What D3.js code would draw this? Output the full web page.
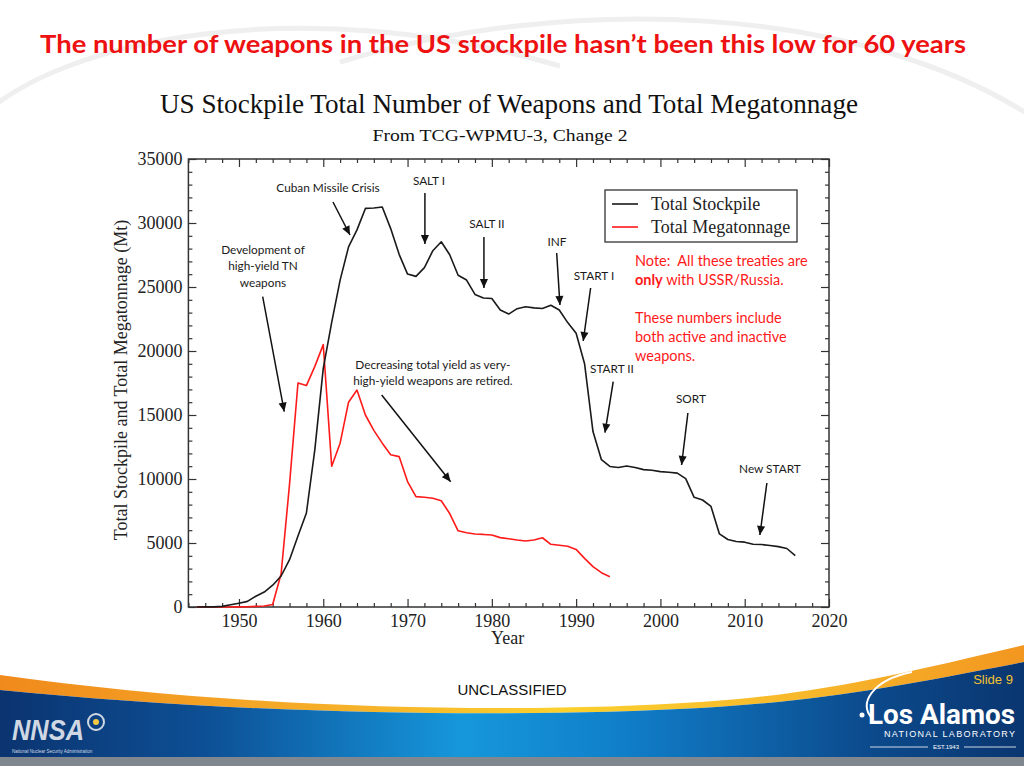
<!DOCTYPE html>
<html><head><meta charset="utf-8">
<script src="https://cdn.jsdelivr.net/npm/d3@7"></script>
<style>body{margin:0;background:#fff;} svg{display:block;}</style>
</head><body>
<svg id="c" width="1024" height="766"></svg>
<script>
// ---------------- DATA ----------------
const stockYears = d3.range(1945, 2017);
const stockpile = [2, 9, 13, 50, 170, 299, 438, 841, 1169, 1703,
  2422, 3692, 5543, 7345, 12298, 18638, 22229, 25540, 28133, 29463,
  31139, 31175, 31255, 29561, 27552, 26008, 25830, 26516, 27835, 28537,
  27519, 25914, 25542, 24418, 24138, 24104, 23208, 22886, 23305, 23459,
  23368, 23317, 23575, 23205, 22217, 21392, 19008, 13708, 11511, 10979,
  10904, 11011, 10903, 10732, 10685, 10577, 10526, 10457, 10027, 8570,
  8360, 7853, 5709, 5273, 5113, 5066, 4897, 4881, 4804, 4717, 4571, 4018];
const megaYears = d3.range(1945, 1995);
const megatonnage = [0, 0, 0, 1, 4, 10, 20, 50, 75, 200,
  2600, 9600, 17500, 17300, 18800, 20500, 11000, 12800, 16000, 16950,
  15000, 13800, 12800, 11900, 11750, 9800, 8620, 8580, 8500, 8300,
  7300, 5950, 5800, 5700, 5670, 5620, 5420, 5330, 5230, 5160,
  5230, 5410, 4900, 4820, 4740, 4500, 3800, 3150, 2680, 2370];
const xTicks = [1950, 1960, 1970, 1980, 1990, 2000, 2010, 2020];
const yTicks = [0, 5000, 10000, 15000, 20000, 25000, 30000, 35000];
const seriesNames = ["Total Stockpile", "Total Megatonnage"];
const noteLines = [["Note:  All these treaties are"], ["only", " with USSR/Russia."], [""], ["These numbers include"], ["both active and inactive"], ["weapons."]];
// annotations in data units: label anchor (year, value), arrow from -> to
const annotations = [
  {lines: ["Development of", "high-yield TN", "weapons"], at: [1952.85, 27578], from: [1952.81, 24242], to: [1955.37, 15258]},
  {lines: ["Cuban Missile Crisis"], at: [1960.56, 32422], from: [1961.15, 31641], to: [1963.17, 29063]},
  {lines: ["SALT I"], at: [1972.54, 32969], from: [1972.06, 32344], to: [1972.06, 28359]},
  {lines: ["SALT II"], at: [1979.42, 29609], from: [1979.06, 28906], to: [1979.06, 24922]},
  {lines: ["INF"], at: [1987.72, 28203], from: [1987.69, 27656], to: [1988.08, 23594]},
  {lines: ["START I"], at: [1992.11, 25547], from: [1991.72, 24922], to: [1990.84, 20781]},
  {lines: ["START II"], at: [1994.25, 18281], from: [1994.40, 17602], to: [1993.42, 13617]},
  {lines: ["SORT"], at: [2003.62, 15938], from: [2003.26, 15156], to: [2002.51, 11094]},
  {lines: ["New START"], at: [2012.99, 10469], from: [2012.63, 9688], to: [2011.80, 5625]},
  {lines: ["Decreasing total yield as very-", "high-yield weapons are retired."], at: [1973.01, 18594], from: [1966.93, 16563], to: [1975.11, 9789]}
];

// ---------------- SETUP ----------------
const svg = d3.select("#c");
const defs = svg.append("defs");
const blueG = defs.append("linearGradient").attr("id", "blueG").attr("x1", 0).attr("x2", 1).attr("y1", 0).attr("y2", 0);
[[0, "#0b3470"], [0.2, "#0d4f95"], [0.45, "#1697dc"], [0.6, "#1080cb"], [0.85, "#0c4a8c"], [1, "#0a3670"]]
  .forEach(s => blueG.append("stop").attr("offset", s[0]).attr("stop-color", s[1]));
const orangeG = defs.append("linearGradient").attr("id", "orangeG").attr("x1", 0).attr("x2", 1).attr("y1", 0).attr("y2", 0);
[[0, "#f08a1c"], [0.35, "#f6b22a"], [0.55, "#fad02e"], [0.8, "#f7b62a"], [1, "#f29620"]]
  .forEach(s => orangeG.append("stop").attr("offset", s[0]).attr("stop-color", s[1]));
defs.append("marker").attr("id", "arr").attr("viewBox", "0 0 10 10")
  .attr("refX", 10).attr("refY", 5).attr("markerWidth", 10).attr("markerHeight", 9)
  .attr("markerUnits", "userSpaceOnUse").attr("orient", "auto")
  .append("path").attr("d", "M0,0.5L10,5L0,9.5Z").attr("fill", "#111");

// background decorative arcs
svg.append("path").attr("d", "M-20,118 C 60,40 300,-10 560,66").attr("fill", "none").attr("stroke", "#efefef").attr("stroke-width", 5);
svg.append("path").attr("d", "M340,62 C 560,-5 860,0 1040,122").attr("fill", "none").attr("stroke", "#efefef").attr("stroke-width", 5);

// slide title
svg.append("text").attr("x", 503).attr("y", 53).attr("text-anchor", "middle")
  .attr("font-family", "Lato, 'Open Sans', sans-serif").attr("font-weight", "bold").attr("font-size", 24)
  .attr("fill", "#ee1111").attr("textLength", 926).attr("lengthAdjust", "spacingAndGlyphs")
  .text("The number of weapons in the US stockpile hasn\u2019t been this low for 60 years");

// chart titles
const serif = "'Liberation Serif', 'Times New Roman', serif";
svg.append("text").attr("x", 509).attr("y", 113).attr("text-anchor", "middle")
  .attr("font-family", serif).attr("font-size", 27).attr("fill", "#111")
  .attr("textLength", 698).attr("lengthAdjust", "spacingAndGlyphs")
  .text("US Stockpile Total Number of Weapons and Total Megatonnage");
svg.append("text").attr("x", 500).attr("y", 141).attr("text-anchor", "middle")
  .attr("font-family", serif).attr("font-size", 17.5).attr("fill", "#111")
  .attr("textLength", 255).attr("lengthAdjust", "spacingAndGlyphs")
  .text("From TCG-WPMU-3, Change 2");

// ---------------- SCALES & AXES ----------------
const x = d3.scaleLinear().domain([1944, 2020]).range([188.4, 829]);
const y = d3.scaleLinear().domain([0, 35000]).range([607, 159]);
const xMinor = d3.range(1944, 2021, 2).filter(v => v % 10 !== 0);
const yMinor = d3.range(0, 35001, 1000).filter(v => v % 5000 !== 0);

function styleAxis(g) {
  g.select(".domain").remove();
  g.selectAll(".tick line").attr("stroke", "#333").attr("stroke-width", 1.2);
  g.selectAll(".tick text").attr("font-family", serif).attr("font-size", 18).attr("fill", "#222");
}
svg.append("g").attr("transform", `translate(0,${y(0)})`)
  .call(d3.axisBottom(x).tickValues(xTicks).tickSize(-8).tickPadding(7).tickFormat(d3.format("d"))).call(styleAxis);
svg.append("g").attr("transform", `translate(0,${y(0)})`)
  .call(d3.axisBottom(x).tickValues(xMinor).tickSize(-4).tickFormat("")).call(styleAxis);
svg.append("g").attr("transform", `translate(0,${y(35000)})`)
  .call(d3.axisTop(x).tickValues(xTicks).tickSize(-8).tickFormat("")).call(styleAxis);
svg.append("g").attr("transform", `translate(0,${y(35000)})`)
  .call(d3.axisTop(x).tickValues(xMinor).tickSize(-4).tickFormat("")).call(styleAxis);
svg.append("g").attr("transform", `translate(${x(1944)},0)`)
  .call(d3.axisLeft(y).tickValues(yTicks).tickSize(-8).tickPadding(6).tickFormat(d3.format("d"))).call(styleAxis);
svg.append("g").attr("transform", `translate(${x(1944)},0)`)
  .call(d3.axisLeft(y).tickValues(yMinor).tickSize(-4).tickFormat("")).call(styleAxis);
svg.append("g").attr("transform", `translate(${x(2020)},0)`)
  .call(d3.axisRight(y).tickValues(yTicks).tickSize(-8).tickFormat("")).call(styleAxis);
svg.append("g").attr("transform", `translate(${x(2020)},0)`)
  .call(d3.axisRight(y).tickValues(yMinor).tickSize(-4).tickFormat("")).call(styleAxis);
svg.append("rect").attr("x", x(1944)).attr("y", y(35000))
  .attr("width", x(2020) - x(1944)).attr("height", y(0) - y(35000))
  .attr("fill", "none").attr("stroke", "#333").attr("stroke-width", 1.5);

svg.append("text").attr("x", (x(1944) + x(2020)) / 2 - 1).attr("y", 644).attr("text-anchor", "middle")
  .attr("font-family", serif).attr("font-size", 18).attr("fill", "#222").text("Year");
svg.append("text").attr("transform", `translate(127,${(y(0) + y(35000)) / 2 - 3}) rotate(-90)`)
  .attr("text-anchor", "middle").attr("font-family", serif).attr("font-size", 18).attr("fill", "#222")
  .text("Total Stockpile and Total Megatonnage (Mt)");

// ---------------- LINES ----------------
const line = d3.line().x(d => x(d[0])).y(d => y(d[1]));
svg.append("path").datum(megaYears.map((yr, i) => [yr, megatonnage[i]]))
  .attr("d", line).attr("fill", "none").attr("stroke", "#ff1a1a").attr("stroke-width", 1.6).attr("stroke-linejoin", "round");
svg.append("path").datum(stockYears.map((yr, i) => [yr, stockpile[i]]))
  .attr("d", line).attr("fill", "none").attr("stroke", "#1a1a1a").attr("stroke-width", 1.6).attr("stroke-linejoin", "round");

// ---------------- LEGEND ----------------
const lg = svg.append("g");
lg.append("rect").attr("x", 605).attr("y", 190).attr("width", 192).attr("height", 52)
  .attr("fill", "#fff").attr("stroke", "#333").attr("stroke-width", 1.3);
const legColors = ["#1a1a1a", "#ff1a1a"];
seriesNames.forEach((n, i) => {
  lg.append("line").attr("x1", 612).attr("x2", 638).attr("y1", 204 + i * 23).attr("y2", 204 + i * 23)
    .attr("stroke", legColors[i]).attr("stroke-width", 1.6);
  lg.append("text").attr("x", 651).attr("y", 210 + i * 23).attr("font-family", serif).attr("font-size", 18)
    .attr("fill", "#222").text(n);
});

// ---------------- NOTE ----------------
const sans = "Lato, 'Open Sans', sans-serif";
const noteY = [266, 285, 304, 323, 342, 361];
noteLines.forEach((parts, i) => {
  const t = svg.append("text").attr("x", 635).attr("y", noteY[i]).attr("font-family", sans)
    .attr("font-size", 14.5).attr("fill", "#ff1a1a").style("white-space", "pre");
  parts.forEach((p, j) => {
    t.append("tspan").attr("font-weight", (i === 1 && j === 0) ? "bold" : "normal").text(p);
  });
});

// ---------------- ANNOTATIONS ----------------
annotations.forEach(a => {
  a.lines.forEach((l, k) => {
    svg.append("text").attr("x", x(a.at[0])).attr("y", y(a.at[1]) + k * 16.4)
      .attr("text-anchor", "middle").attr("font-family", sans).attr("font-size", 11.8).attr("fill", "#1a1a1a").text(l);
  });
  svg.append("line").attr("x1", x(a.from[0])).attr("y1", y(a.from[1]))
    .attr("x2", x(a.to[0])).attr("y2", y(a.to[1]))
    .attr("stroke", "#111").attr("stroke-width", 1.5).attr("marker-end", "url(#arr)");
});

// ---------------- FOOTER ----------------
svg.append("path").attr("d", "M0,675 C 250,710 520,714 700,702 C 820,694 900,674 1024,645 L1024,662 C 900,686 820,701 700,708 C 520,718 250,715 0,690 Z")
  .attr("fill", "url(#orangeG)");
svg.append("path").attr("d", "M0,690 C 250,715 520,718 700,708 C 820,701 900,686 1024,662 L1024,757 L0,757 Z")
  .attr("fill", "url(#blueG)");
svg.append("rect").attr("x", 0).attr("y", 757).attr("width", 1024).attr("height", 9).attr("fill", "#80878f");

svg.append("text").attr("x", 512).attr("y", 695).attr("text-anchor", "middle")
  .attr("font-family", "'Liberation Sans', Arial, sans-serif").attr("font-size", 15).attr("fill", "#111").text("UNCLASSIFIED");
svg.append("text").attr("x", 993).attr("y", 684).attr("text-anchor", "middle")
  .attr("font-family", "'Liberation Sans', Arial, sans-serif").attr("font-size", 13).attr("fill", "#f2c230").text("Slide 9");

// NNSA logo
svg.append("text").attr("x", 12).attr("y", 740).attr("font-family", "'Liberation Sans', Arial, sans-serif")
  .attr("font-weight", "bold").attr("font-style", "italic").attr("font-size", 30).attr("fill", "#cfd8e3")
  .attr("textLength", 72).attr("lengthAdjust", "spacingAndGlyphs").text("NNSA");
svg.append("circle").attr("cx", 96).attr("cy", 722).attr("r", 8).attr("fill", "none").attr("stroke", "#cfd8e3").attr("stroke-width", 2);
svg.append("circle").attr("cx", 96).attr("cy", 722).attr("r", 3).attr("fill", "#f5c842");
svg.append("text").attr("x", 12).attr("y", 753).attr("font-family", "'Liberation Sans', Arial, sans-serif")
  .attr("font-size", 4.5).attr("fill", "#cfd8e3").text("National Nuclear Security Administration");

// Los Alamos logo
svg.append("path").attr("d", "M872,718 C 858,704 872,680 912,672").attr("fill", "none").attr("stroke", "#fff").attr("stroke-width", 2);
svg.append("circle").attr("cx", 862).attr("cy", 715).attr("r", 2.5).attr("fill", "#fff");
svg.append("text").attr("x", 868).attr("y", 724).attr("font-family", "Roboto, 'Liberation Sans', sans-serif")
  .attr("font-weight", "bold").attr("font-size", 27).attr("fill", "#fff")
  .attr("textLength", 147).attr("lengthAdjust", "spacingAndGlyphs").text("Los Alamos");
svg.append("text").attr("x", 884).attr("y", 737).attr("font-family", "'Liberation Sans', Arial, sans-serif")
  .attr("font-size", 9).attr("fill", "#fff").attr("textLength", 131).attr("lengthAdjust", "spacing").text("NATIONAL LABORATORY");
svg.append("text").attr("x", 946).attr("y", 749).attr("text-anchor", "middle").attr("font-family", "'Liberation Sans', Arial, sans-serif")
  .attr("font-size", 6).attr("fill", "#fff").text("EST.1943");
svg.append("line").attr("x1", 870).attr("x2", 928).attr("y1", 747).attr("y2", 747).attr("stroke", "#fff").attr("stroke-width", 0.8);
svg.append("line").attr("x1", 964).attr("x2", 1016).attr("y1", 747).attr("y2", 747).attr("stroke", "#fff").attr("stroke-width", 0.8);
</script>
</body></html>
